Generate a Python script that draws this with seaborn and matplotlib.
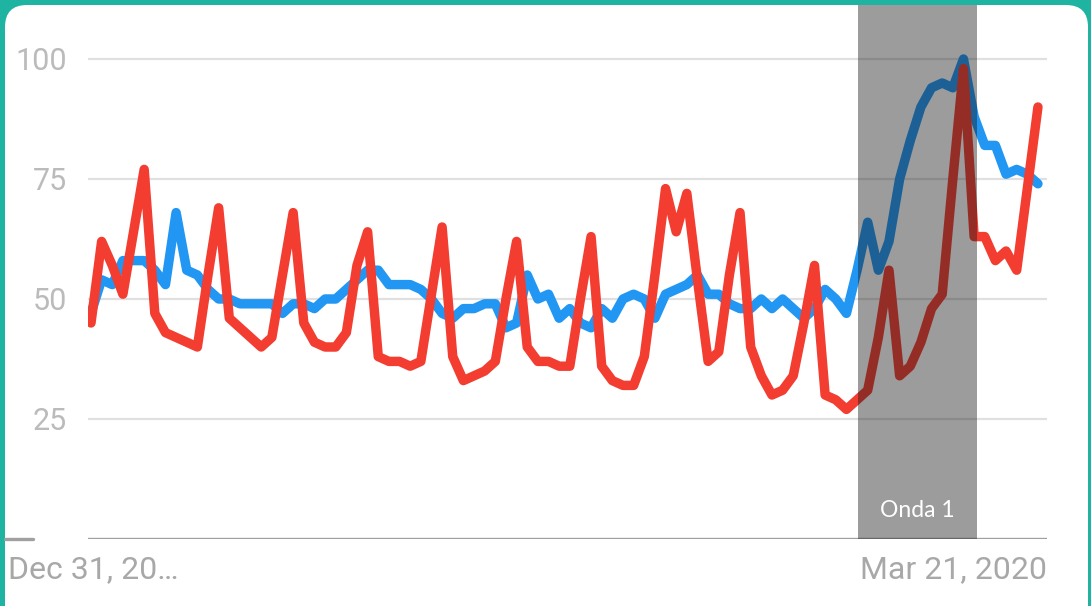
import pandas as pd
import matplotlib.pyplot as plt
from matplotlib.patches import FancyBboxPatch
from matplotlib.lines import Line2D
import seaborn as sns

# daily values, Dec 31 2019 onwards (Google Trends style, 0-100)
days = list(range(90))
blue_values = [47, 54, 53, 58, 58, 58, 56, 53, 68, 56,
               55, 52, 50, 50, 49, 49, 49, 49, 47, 49,
               49, 48, 50, 50, 52, 54, 56, 56, 53, 53,
               53, 52, 50, 47, 46, 48, 48, 49, 49, 44,
               45, 55, 50, 51, 46, 48, 45, 44, 48, 46,
               50, 51, 50, 46, 51, 52, 53, 55, 51, 51,
               49, 48, 48, 50, 48, 50, 48, 46, 48, 52,
               50, 47, 56, 66, 56, 62, 75, 83, 90, 94,
               95, 94, 100, 88, 82, 82, 76, 77, 76, 74]
red_values = [45, 62, 57, 51, 64, 77, 47, 43, 42, 41,
              40, 55, 69, 46, 44, 42, 40, 42, 55, 68,
              45, 41, 40, 40, 43, 57, 64, 38, 37, 37,
              36, 37, 51, 65, 38, 33, 34, 35, 37, 50,
              62, 40, 37, 37, 36, 36, 50, 63, 36, 33,
              32, 32, 38, 55, 73, 64, 72, 54, 37, 39,
              55, 68, 40, 34, 30, 31, 34, 45, 57, 30,
              29, 27, 29, 31, 42, 56, 34, 36, 41, 48,
              51, 75, 98, 63, 63, 58, 60, 56, 73, 90]
series_names = ['termo azul', 'termo vermelho']
series_colors = ['#2196f3', '#f33d31']
y_ticks = [25, 50, 75, 100]
x_labels = ['Dec 31, 20…', 'Mar 21, 2020']
wave_label = 'Onda 1'
wave_start, wave_end = 72.1, 83.3

df = pd.DataFrame({
    'day': days * 2,
    'value': blue_values + red_values,
    'series': [series_names[0]] * len(days) + [series_names[1]] * len(days),
})

sns.set_style('white')
plt.rcParams['font.family'] = ['Roboto', 'DejaVu Sans']

W, H = 1091, 606
fig = plt.figure(figsize=(W / 100, H / 100), dpi=100)
fig.patch.set_facecolor('#1fb3a1')

# white card with rounded corners inside the teal frame
card = FancyBboxPatch((0.05, -0.4), 10.91 - 0.08, 6.06 - 0.05 + 0.4,
                      boxstyle='round,pad=0,rounding_size=0.22',
                      transform=fig.dpi_scale_trans, facecolor='white',
                      edgecolor='none', zorder=-1)
fig.add_artist(card)

ax = fig.add_axes([88 / W, 67 / H, 959 / W, 534 / H])
ax.set_facecolor('none')

for y in y_ticks:
    ax.axhline(y, color='#e0e0e0', lw=1.6, zorder=0)
ax.axhline(0, color='#a0a0a0', lw=2.4, zorder=1)
fig.add_artist(Line2D([5 / W, 33 / W], [67 / H, 67 / H], color='#a0a0a0', lw=2.4))

sns.lineplot(data=df, x='day', y='value', hue='series', hue_order=series_names,
             palette=series_colors, linewidth=6.8, legend=False, ax=ax, zorder=2)

ax.axvspan(wave_start, wave_end, color='#1a1a1a', alpha=0.43, lw=0, zorder=3)
ax.text((wave_start + wave_end) / 2, 6, wave_label, color='white', ha='center',
        va='center', fontsize=16.5, family=['Lato', 'DejaVu Sans'], zorder=4)

ax.set_xlim(-0.28, 89.85)
ax.set_ylim(0, 111.25)
ax.set_yticks(y_ticks)
ax.set_xticks([])
ax.set_xlabel('')
ax.set_ylabel('')
ax.tick_params(axis='y', length=0, pad=15, labelsize=22, labelcolor='#bbbbbb')
for s in ax.spines.values():
    s.set_visible(False)

fig.text(8 / W, 1 - 570 / H, x_labels[0], ha='left', va='center',
         fontsize=23, color='#a8a8a8')
fig.text(1047 / W, 1 - 570 / H, x_labels[1], ha='right', va='center',
         fontsize=23, color='#a8a8a8')

fig.savefig('out.png', dpi=100, facecolor=fig.get_facecolor())
